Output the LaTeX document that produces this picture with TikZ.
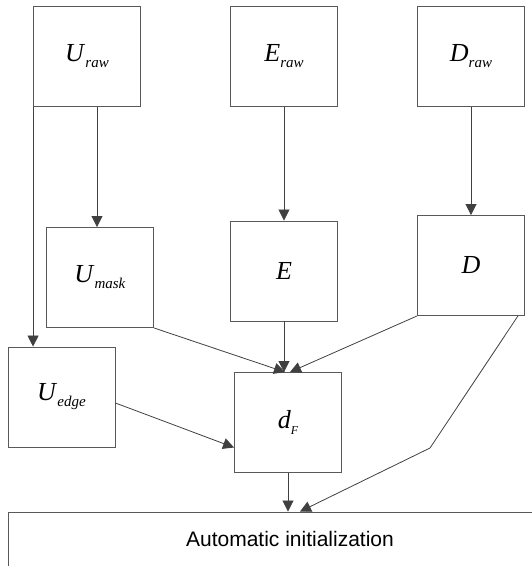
\documentclass[tikz,border=0pt]{standalone}
\usepackage{fontspec}
\setmainfont{Liberation Serif}
\newfontfamily\initfont{Liberation Sans}
\usetikzlibrary{arrows.meta}

\newcommand{\lbl}[3][15]{\textit{#2}\raisebox{-6pt}{\fontsize{#1}{#1}\selectfont\textit{#3}}}

\begin{document}
\begin{tikzpicture}[
  x=1pt, y=-1pt,
  box/.style={draw=black!65, line width=0.9pt, minimum width=107pt, minimum height=100pt, inner sep=0pt, font=\fontsize{26}{26}\selectfont},
  arr/.style={-{Triangle[length=11pt,width=11pt]}, draw=black!75, line width=0.8pt}
]
  \useasboundingbox (0,0) rectangle (532,566);
  \node[box] (uraw) at (87,56.5) {\lbl{U}{raw}};
  \node[box] (eraw) at (284,56.5) {\lbl{E}{raw}};
  \node[box] (draw) at (471,56.5) {\lbl{D}{raw}};
  \node[box] (umask) at (100,277.5) {\lbl{U}{mask}};
  \node[box] (e) at (284,271) {\textit{E}};
  \node[box] (d) at (471,265.5) {\textit{D}};
  \node[box] (uedge) at (61.5,397) {\lbl{U}{edge}};
  \node[box] (df) at (288,422.5) {\lbl[12]{d}{F}};
  \node[box, minimum width=563pt, minimum height=54pt, font=\initfont\fontsize{21}{21}\selectfont] (init) at (290,539) {Automatic initialization};
  \coordinate (bend) at (430,448);

  \draw[arr] ([xshift=-3pt]umask.north |- uraw.south) -- ([xshift=-3pt]umask.north);
  \draw[arr] (uraw.south west) -- (uraw.south west |- uedge.north);
  \draw[arr] (eraw) -- (e);
  \draw[arr] (draw) -- (d);
  \draw[arr] (umask.south east) -- ([xshift=-3pt]df.north);
  \draw[arr] (e.south) -- (e.south |- df.north);
  \draw[arr] (d.south west) -- ([xshift=2pt]df.north);
  \draw[arr] ([yshift=-6pt]uedge.east) -- ([yshift=-25pt]df.west);
  \draw[arr] (df.south) -- (df.south |- init.north);
  \draw[arr] ([xshift=-7pt]d.south east) -- (bend) -- ([xshift=10pt]init.north);
\end{tikzpicture}
\end{document}
